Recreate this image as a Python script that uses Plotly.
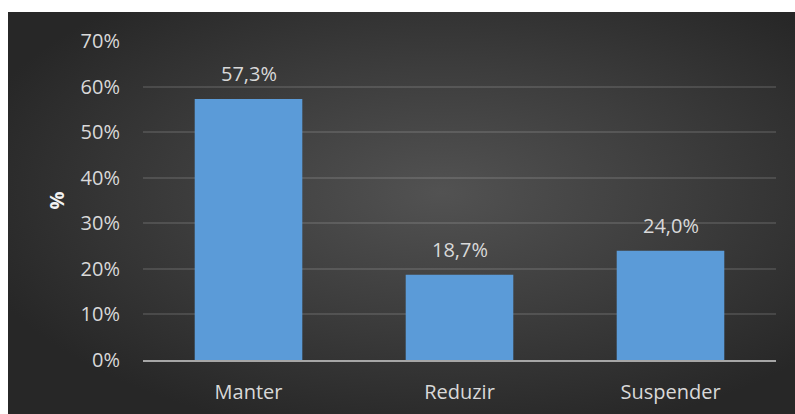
import base64
import plotly.graph_objects as go

# Survey answers and their shares
categories = ["Manter", "Reduzir", "Suspender"]
shares = [0.573, 0.187, 0.240]
tick_values = [0, 0.1, 0.2, 0.3, 0.4, 0.5, 0.6, 0.7]

W, H = 795, 414
L, R, T, B = 143, 19, 41, 54
plot_w, plot_h = W - L - R, H - T - B
FONT = "Open Sans"
FS = 20

# Dark panel with a soft radial glow, drawn as an SVG layout image
svg = """<svg xmlns='http://www.w3.org/2000/svg' width='787' height='402' viewBox='0 0 787 402' preserveAspectRatio='none'>
<defs><radialGradient id='g' cx='0.55' cy='0.45' r='0.62'>
<stop offset='0' stop-color='#525252'/><stop offset='0.5' stop-color='#3d3d3d'/><stop offset='1' stop-color='#272727'/>
</radialGradient></defs>
<rect width='787' height='402' fill='url(#g)'/></svg>"""
svg_uri = "data:image/svg+xml;base64," + base64.b64encode(svg.encode()).decode()

panel_x0, panel_y0 = 8, 12
fig = go.Figure()
fig.add_trace(go.Bar(
    x=categories,
    y=shares,
    width=0.51,
    marker=dict(color="#5b9bd8", line=dict(width=0)),
    hoverinfo="skip",
))

# Value labels above each bar
for cat, val in zip(categories, shares):
    fig.add_annotation(
        x=cat, y=val, yshift=25, showarrow=False,
        text=f"{val * 100:.1f}%".replace(".", ","),
        font=dict(family=FONT, size=FS, color="#d9d9d9"),
        yanchor="middle",
    )

fig.add_layout_image(dict(
    source=svg_uri,
    xref="paper", yref="paper",
    x=(panel_x0 - L) / plot_w,
    y=(H - B - panel_y0) / plot_h,
    sizex=(W - panel_x0) / plot_w,
    sizey=(H - panel_y0) / plot_h,
    sizing="stretch",
    xanchor="left", yanchor="top",
    layer="below",
))

fig.update_layout(
    width=W, height=H,
    margin=dict(l=L, r=R, t=T, b=B, autoexpand=False),
    paper_bgcolor="white",
    plot_bgcolor="rgba(0,0,0,0)",
    separators=",.",
    showlegend=False,
    font=dict(family=FONT, size=FS, color="#d9d9d9"),
)
fig.update_yaxes(
    range=[0, 0.7],
    tickvals=tick_values,
    tickformat=".0%",
    automargin=False,
    showgrid=True,
    gridcolor="rgba(255,255,255,0.12)",
    gridwidth=1.5,
    zeroline=False,
    showline=False,
    ticklabelstandoff=22,
    tickfont=dict(family=FONT, size=FS, color="#d9d9d9"),
    title=dict(text="<b>%</b>", standoff=10,
               font=dict(family=FONT, size=FS, color="#f2f2f2")),
)
fig.update_xaxes(
    automargin=False,
    showgrid=False,
    showline=True,
    linecolor="#a6a6a6",
    linewidth=2,
    ticks="",
    ticklabelstandoff=13,
    tickfont=dict(family=FONT, size=FS, color="#d9d9d9"),
)

fig.write_html("out.html")
